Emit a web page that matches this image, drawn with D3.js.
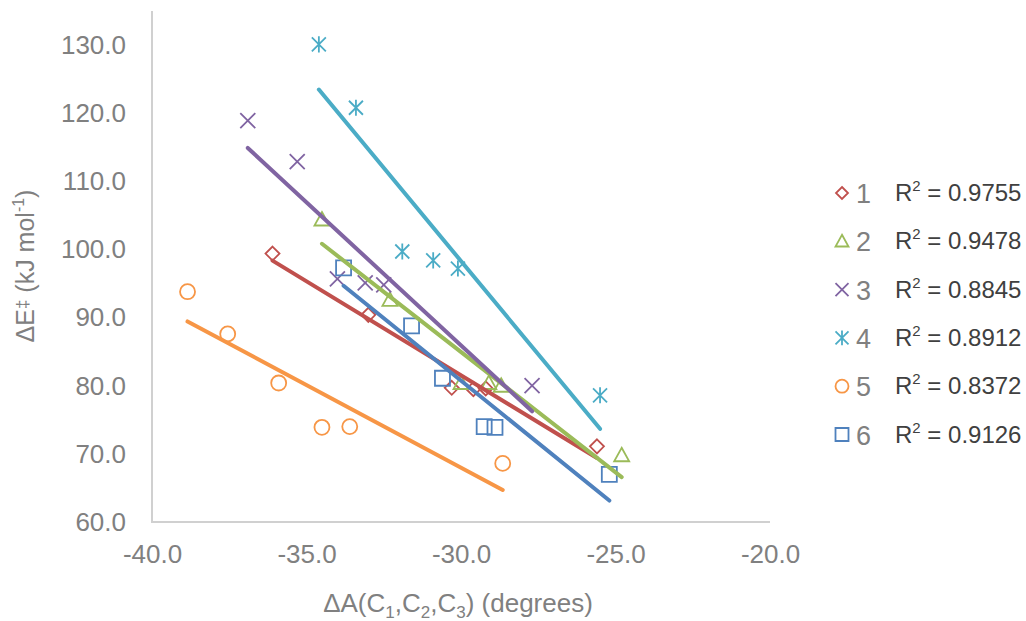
<!DOCTYPE html>
<html>
<head>
<meta charset="utf-8">
<script src="https://cdn.jsdelivr.net/npm/d3@7"></script>
<style>
  html, body { margin: 0; padding: 0; background: #fff; }
  svg { display: block; font-family: "Liberation Sans", Arial, sans-serif; }
</style>
</head>
<body>
<svg id="chart" width="1026" height="621"></svg>
<script>
// Series names and their fit quality
const seriesNames = ["1", "2", "3", "4", "5", "6"];
const rSquared = ["0.9755", "0.9478", "0.8845", "0.8912", "0.8372", "0.9126"];
const seriesColors = ["#C0504D", "#9BBB59", "#8064A2", "#4BACC6", "#F79646", "#4F81BD"];
const markerTypes = ["diamond", "triangle", "x", "star", "circle", "square"];

// ΔA(C1,C2,C3) in degrees, and ΔE‡ in kJ/mol, per series
const s1X = [-36.1, -33.0, -30.3, -29.6, -29.2, -25.6];
const s1Y = [99.4, 90.4, 79.7, 79.5, 79.6, 71.1];
const s2X = [-34.5, -32.3, -30.0, -29.1, -28.7, -24.8];
const s2Y = [104.4, 92.6, 80.4, 80.4, 80.0, 69.8];
const s3X = [-36.9, -35.3, -34.0, -33.1, -32.5, -27.7];
const s3Y = [118.9, 112.9, 95.7, 95.1, 94.8, 80.0];
const s4X = [-34.6, -33.4, -31.9, -30.9, -30.1, -25.5];
const s4Y = [130.1, 120.8, 99.7, 98.4, 97.2, 78.6];
const s5X = [-38.85, -37.55, -35.9, -34.5, -33.6, -28.65];
const s5Y = [93.8, 87.6, 80.4, 73.9, 74.0, 68.6];
const s6X = [-33.8, -31.6, -30.6, -29.25, -28.9, -25.2];
const s6Y = [97.3, 88.8, 81.1, 74.0, 73.9, 67.0];

const xTicks = [-40, -35, -30, -25, -20];
const yTicks = [60, 70, 80, 90, 100, 110, 120, 130];

const allX = [s1X, s2X, s3X, s4X, s5X, s6X];
const allY = [s1Y, s2Y, s3Y, s4Y, s5Y, s6Y];
const series = seriesNames.map((name, i) => ({
  name, r2: rSquared[i], color: seriesColors[i], marker: markerTypes[i],
  points: allX[i].map((x, j) => ({ x, y: allY[i][j] }))
}));

const svg = d3.select("#chart");
const plot = { left: 152, right: 770, top: 11, bottom: 522 };

const x = d3.scaleLinear().domain([-40, -20]).range([plot.left, plot.right]);
const y = d3.scaleLinear().domain([60, 135]).range([plot.bottom, plot.top]);

const tickColor = "#808080";
const axisColor = "#D0D0D0";
const fmt = d => d.toFixed(1);

// Axes
const xAxis = svg.append("g")
  .attr("transform", `translate(0,${plot.bottom})`)
  .call(d3.axisBottom(x).tickValues(xTicks).tickSize(0).tickPadding(23).tickFormat(fmt));
xAxis.select(".domain").attr("stroke", axisColor).attr("stroke-width", 2)
  .attr("d", `M${plot.left},0H${plot.right}`);
xAxis.selectAll("text").attr("fill", tickColor).attr("font-size", 26)
  .attr("font-family", "Liberation Sans, Arial, sans-serif");

const yAxis = svg.append("g")
  .attr("transform", `translate(${plot.left},0)`)
  .call(d3.axisLeft(y).tickValues(yTicks).tickSize(0).tickPadding(26).tickFormat(fmt));
yAxis.select(".domain").attr("stroke", axisColor).attr("stroke-width", 2)
  .attr("d", `M0,${plot.top}V${plot.bottom + 1}`);
yAxis.selectAll("text").attr("fill", tickColor).attr("font-size", 26)
  .attr("font-family", "Liberation Sans, Arial, sans-serif");

// Axis titles
const xTitle = svg.append("text")
  .attr("x", 458).attr("y", 612)
  .attr("text-anchor", "middle").attr("fill", tickColor).attr("font-size", 26);
xTitle.append("tspan").text("ΔA(C");
xTitle.append("tspan").attr("font-size", 17).attr("dy", 6).text("1");
xTitle.append("tspan").attr("dy", -6).text(",C");
xTitle.append("tspan").attr("font-size", 17).attr("dy", 6).text("2");
xTitle.append("tspan").attr("dy", -6).text(",C");
xTitle.append("tspan").attr("font-size", 17).attr("dy", 6).text("3");
xTitle.append("tspan").attr("dy", -6).text(") (degrees)");

const yTitle = svg.append("text")
  .attr("transform", "translate(34,266) rotate(-90)")
  .attr("text-anchor", "middle").attr("fill", tickColor).attr("font-size", 25);
yTitle.append("tspan").text("ΔE");
yTitle.append("tspan").attr("font-size", 17).attr("dy", -6).text("‡");
yTitle.append("tspan").attr("dy", 6).text(" (kJ mol");
yTitle.append("tspan").attr("font-size", 16).attr("dy", -10).text("-1");
yTitle.append("tspan").attr("dy", 10).text(")");

// Marker path builders, centred on 0,0
function markerPath(type, s) {
  const h = s / 2;
  switch (type) {
    case "diamond": return `M0,${-h}L${h},0L0,${h}L${-h},0Z`;
    case "triangle": return `M0,${-h}L${h},${h * 0.8}L${-h},${h * 0.8}Z`;
    case "square": return `M${-h},${-h}H${h}V${h}H${-h}Z`;
    case "x": return `M${-h},${-h}L${h},${h}M${h},${-h}L${-h},${h}`;
    case "star": return `M${-h},${-h}L${h},${h}M${h},${-h}L${-h},${h}M0,${-h * 1.15}V${h * 1.15}`;
    case "circle": return `M${h},0A${h},${h} 0 1,1 ${-h},0A${h},${h} 0 1,1 ${h},0Z`;
  }
}
const markerSize = { diamond: 14, triangle: 15, square: 15, x: 15, star: 14, circle: 15 };

// Markers
series.forEach(s => {
  svg.append("g").selectAll("path").data(s.points).join("path")
    .attr("transform", d => `translate(${x(d.x)},${y(d.y)})`)
    .attr("d", markerPath(s.marker, markerSize[s.marker]))
    .attr("fill", "none").attr("stroke", s.color).attr("stroke-width", 1.8);
});

// Least-squares trendlines over each series' x range
series.forEach(s => {
  const mx = d3.mean(s.points, d => d.x);
  const my = d3.mean(s.points, d => d.y);
  const sxy = d3.sum(s.points, d => (d.x - mx) * (d.y - my));
  const sxx = d3.sum(s.points, d => (d.x - mx) ** 2);
  const slope = sxy / sxx;
  const icpt = my - slope * mx;
  const [x0, x1] = d3.extent(s.points, d => d.x);
  svg.append("line")
    .attr("x1", x(x0)).attr("y1", y(slope * x0 + icpt))
    .attr("x2", x(x1)).attr("y2", y(slope * x1 + icpt))
    .attr("stroke", s.color).attr("stroke-width", 4).attr("stroke-linecap", "round");
});

// Legend
const legend = svg.append("g");
series.forEach((s, i) => {
  const cy = 193 + i * 48.3;
  legend.append("path")
    .attr("transform", `translate(842,${cy})`)
    .attr("d", markerPath(s.marker, s.marker === "diamond" ? 12 : 13))
    .attr("fill", "none").attr("stroke", s.color).attr("stroke-width", 1.8);
  legend.append("text").attr("x", 856).attr("y", cy + 10)
    .attr("fill", tickColor).attr("font-size", 27).text(s.name);
  const t = legend.append("text").attr("x", 895).attr("y", cy + 8)
    .attr("fill", "#404040").attr("font-size", 24);
  t.append("tspan").text("R");
  t.append("tspan").attr("font-size", 15).attr("dy", -10).text("2");
  t.append("tspan").attr("dy", 10).text(" = " + s.r2);
});
</script>
</body>
</html>
